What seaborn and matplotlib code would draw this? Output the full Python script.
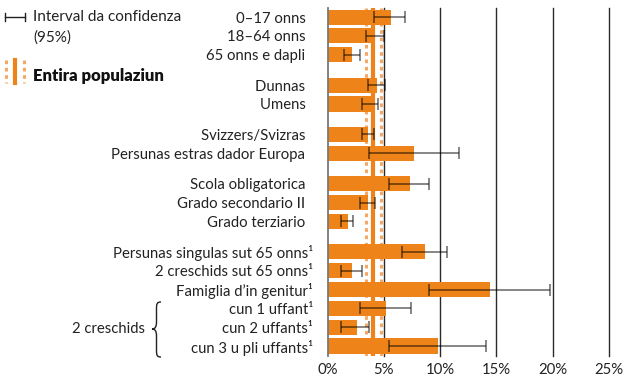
import numpy as np
import pandas as pd
import matplotlib
matplotlib.use("Agg")
import matplotlib.pyplot as plt
from matplotlib.path import Path
from matplotlib.patches import PathPatch
from matplotlib.lines import Line2D
import seaborn as sns

# Categories (top to bottom)
categories = [
    "0–17 onns", "18–64 onns", "65 onns e dapli",
    "Dunnas", "Umens",
    "Svizzers/Svizras", "Persunas estras dador Europa",
    "Scola obligatorica", "Grado secondario II", "Grado terziario",
    "Persunas singulas sut 65 onns¹", "2 creschids sut 65 onns¹",
    "Famiglia d’in genitur¹", "cun 1 uffant¹", "cun 2 uffants¹",
    "cun 3 u pli uffants¹",
]
# Group index of each category (a gap separates groups)
groups = [0, 0, 0, 1, 1, 2, 2, 3, 3, 3, 4, 4, 4, 4, 4, 4]

# Share in % and 95% confidence interval
values = [5.6, 4.2, 2.2, 4.4, 3.9, 3.6, 7.7, 7.3, 3.6, 1.8,
          8.7, 2.2, 14.4, 5.2, 2.6, 9.8]
ci_low = [4.1, 3.4, 1.5, 3.6, 3.1, 3.05, 3.7, 5.5, 2.9, 1.2,
          6.6, 1.2, 9.05, 2.9, 1.2, 5.5]
ci_high = [6.9, 5.0, 2.9, 5.1, 4.5, 4.1, 11.7, 9.0, 4.2, 2.3,
           10.6, 3.1, 19.8, 7.4, 3.7, 14.1]

# Whole population: estimate and confidence interval
pop_value = 4.08
pop_low = 3.4
pop_high = 4.76

xticks = [0, 5, 10, 15, 20, 25]
xtick_labels = ["0%", "5%", "10%", "15%", "20%", "25%"]

ORANGE = "#EE8419"
ORANGE_LIGHT = "#F3A867"
FONT = "Lato"
FS = 10.7

# Row positions with extra space between groups
gap = 1.62
pos = []
y = 0.0
for i, g in enumerate(groups):
    if i > 0:
        y += gap if g != groups[i - 1] else 1.0
    pos.append(y)

df = pd.DataFrame({"cat": categories, "pos": pos, "val": values,
                   "lo": ci_low, "hi": ci_high})

W, H = 626, 381
fig = plt.figure(figsize=(W / 100, H / 100), dpi=100)
plt.rcParams["font.family"] = [FONT, "DejaVu Sans"]

ax_left, ax_right = 327.5 / W, 609 / W
ax_top, ax_bot = 1 - 8 / H, 1 - 356 / H
ax = fig.add_axes([ax_left, ax_bot, ax_right - ax_left, ax_top - ax_bot])

# Population band drawn behind the bars
ax.axvline(pop_value, color=ORANGE, lw=3, zorder=1)
for v in (pop_low, pop_high):
    ax.axvline(v, color=ORANGE_LIGHT, lw=2.2, ls=(0, (1.2, 1.2)), zorder=1)

# Vertical grid lines
for t in xticks[1:]:
    ax.axvline(t, color="#2a2a2a", lw=1.0, zorder=0.5, clip_on=False)

sns.barplot(data=df, x="val", y="pos", orient="h", native_scale=True,
            color=ORANGE, saturation=1, width=0.8, errorbar=None,
            ax=ax, zorder=2, linewidth=0)

# Confidence intervals
xerr = np.array([df["val"] - df["lo"], df["hi"] - df["val"]])
ax.errorbar(df["val"], df["pos"], xerr=xerr, fmt="none", ecolor="black",
            elinewidth=1.1, capsize=4.5, capthick=1.1, alpha=0.6, zorder=3)

# Labels without footnote mark keep the footnote's room free
ylabels = [c if c.endswith("¹") else c + "\u2002" for c in categories]

ax.set_xlim(0, 25)
ax.set_ylim(pos[-1] + 0.53, pos[0] - 0.48)
ax.set_xticks(xticks)
ax.set_xticklabels(xtick_labels, fontsize=FS, color="#222")
ax.set_yticks(pos)
ax.set_yticklabels(ylabels, fontsize=FS, color="#222")
ax.tick_params(axis="both", length=0)
ax.tick_params(axis="y", pad=10.5)
ax.tick_params(axis="x", pad=5)
ax.set_xlabel("")
ax.set_ylabel("")
for s in ("top", "right", "bottom"):
    ax.spines[s].set_visible(False)
ax.spines["left"].set_color("#777")
ax.spines["left"].set_linewidth(1.3)
ax.spines["left"].set_zorder(4)


def fx(px):
    return px / W


def fy(py):
    return 1 - py / H


# Brace grouping the households with children
bx_tip, bx_mid, bx_end = 152, 156.5, 161
by_top, by_mid, by_bot = 302, 329, 357
verts = [
    (bx_end, by_top), (bx_mid, by_top), (bx_mid, by_top + 2), (bx_mid, by_top + 8),
    (bx_mid, by_mid - 7),
    (bx_mid, by_mid - 2), (bx_mid - 1.5, by_mid), (bx_tip, by_mid),
    (bx_mid - 1.5, by_mid), (bx_mid, by_mid + 2), (bx_mid, by_mid + 7),
    (bx_mid, by_bot - 8),
    (bx_mid, by_bot - 2), (bx_mid, by_bot), (bx_end, by_bot),
]
codes = [Path.MOVETO, Path.CURVE4, Path.CURVE4, Path.CURVE4,
         Path.LINETO,
         Path.CURVE4, Path.CURVE4, Path.CURVE4,
         Path.CURVE4, Path.CURVE4, Path.CURVE4,
         Path.LINETO,
         Path.CURVE4, Path.CURVE4, Path.CURVE4]
brace = Path([(fx(x), fy(yv)) for x, yv in verts], codes)
fig.add_artist(PathPatch(brace, transform=fig.transFigure, fill=False,
                         lw=1.0, edgecolor="#222"))
fig.text(fx(145), fy(329), "2 creschids", ha="right", va="center",
         fontsize=FS, color="#222")

# Legend: confidence interval symbol
fig.add_artist(Line2D([fx(5), fx(25)], [fy(17), fy(17)],
                      transform=fig.transFigure, color="#222", lw=1))
for xx in (5, 25):
    fig.add_artist(Line2D([fx(xx), fx(xx)], [fy(13), fy(21)],
                          transform=fig.transFigure, color="#222", lw=1))
fig.text(fx(33), fy(17), "Interval da confidenza", ha="left", va="center",
         fontsize=FS + 0.3, color="#222")
fig.text(fx(33), fy(38), "(95%)", ha="left", va="center",
         fontsize=FS + 0.3, color="#222")

# Legend: whole population
fig.add_artist(Line2D([fx(15), fx(15)], [fy(60), fy(83)],
                      transform=fig.transFigure, color=ORANGE, lw=3))
for xx in (6, 24):
    fig.add_artist(Line2D([fx(xx), fx(xx)], [fy(60), fy(83)],
                          transform=fig.transFigure, color=ORANGE_LIGHT,
                          lw=2.2, ls=(0, (1.2, 1.2))))
fig.text(fx(33), fy(76), "Entira populaziun", ha="left", va="center",
         fontsize=12, fontweight="heavy", color="#111")

fig.savefig("out.png", dpi=100)
